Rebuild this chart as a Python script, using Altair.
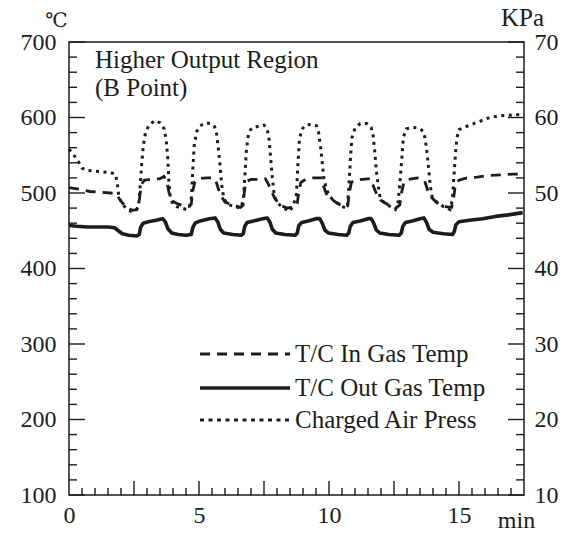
import altair as alt
import pandas as pd

# ---------------- data ----------------
# T/C In Gas Temp (degC) : (min, value)
tc_in = [(0.00, 507), (0.40, 505), (0.80, 502), (1.20, 501), (1.60, 500), (1.80, 499),
         (1.90, 494), (2.05, 487), (2.25, 480), (2.45, 477), (2.60, 478), (2.68, 484),
         (2.74, 500), (2.80, 512), (2.90, 517), (3.20, 518), (3.50, 519), (3.65, 522),
         (3.75, 517), (3.85, 500), (3.95, 490), (4.15, 486), (4.40, 483), (4.60, 482),
         (4.70, 485), (4.76, 502), (4.84, 515), (5.00, 519), (5.30, 520), (5.55, 520),
         (5.65, 516), (5.75, 505), (5.85, 496), (6.00, 488), (6.30, 484), (6.60, 481),
         (6.70, 484), (6.74, 500), (6.80, 515), (7.00, 518), (7.30, 518), (7.55, 519),
         (7.65, 513), (7.78, 503), (7.90, 494), (8.10, 484), (8.40, 480), (8.70, 482),
         (8.78, 486), (8.84, 503), (8.92, 514), (9.10, 518), (9.40, 520), (9.70, 520),
         (9.80, 508), (9.92, 497), (10.05, 493), (10.30, 487), (10.60, 481), (10.72, 483),
         (10.78, 500), (10.86, 514), (11.00, 517), (11.30, 518), (11.60, 519), (11.72, 508),
         (11.85, 497), (12.00, 490), (12.30, 484), (12.60, 481), (12.72, 484), (12.80, 502),
         (12.88, 514), (13.05, 518), (13.40, 520), (13.68, 516), (13.80, 503), (13.95, 494),
         (14.15, 487), (14.45, 482), (14.72, 481), (14.80, 495), (14.86, 511), (15.00, 517),
         (15.30, 520), (15.70, 521), (16.10, 523), (16.60, 524), (17.10, 525), (17.45, 525)]

# T/C Out Gas Temp (degC)
tc_out = [(0.00, 457), (0.30, 456), (0.70, 455), (1.10, 455), (1.50, 455), (1.75, 454),
          (1.90, 450), (2.05, 446), (2.30, 444), (2.60, 443), (2.70, 445), (2.76, 455),
          (2.85, 460), (3.05, 462), (3.35, 464), (3.60, 466), (3.70, 462), (3.80, 453),
          (3.95, 447), (4.20, 445), (4.50, 444), (4.70, 445), (4.76, 454), (4.85, 460),
          (5.05, 463), (5.40, 466), (5.62, 467), (5.72, 462), (5.82, 452), (5.95, 447),
          (6.30, 445), (6.62, 444), (6.70, 446), (6.76, 456), (6.85, 461), (7.10, 463),
          (7.45, 466), (7.62, 467), (7.72, 462), (7.82, 452), (7.95, 447), (8.30, 445),
          (8.70, 444), (8.78, 447), (8.84, 457), (8.95, 461), (9.20, 463), (9.50, 466),
          (9.64, 466), (9.74, 460), (9.84, 451), (9.98, 447), (10.35, 445), (10.68, 444),
          (10.76, 447), (10.82, 456), (10.92, 461), (11.20, 463), (11.50, 466), (11.62, 466),
          (11.72, 460), (11.82, 451), (11.95, 447), (12.30, 445), (12.70, 444), (12.78, 447),
          (12.84, 456), (12.94, 461), (13.20, 463), (13.50, 466), (13.65, 467), (13.75, 461),
          (13.85, 452), (14.00, 448), (14.40, 446), (14.75, 445), (14.82, 449), (14.88, 458),
          (15.00, 462), (15.40, 464), (15.90, 466), (16.40, 469), (16.90, 471), (17.45, 474)]

# Charged Air Press (KPa)
air_press = [(0.00, 55.8), (0.15, 55.2), (0.35, 54.2), (0.50, 53.3), (0.70, 53.0), (1.00, 52.9),
             (1.30, 52.8), (1.60, 52.7), (1.78, 52.5), (1.85, 51.5), (1.92, 49.5), (2.05, 48.5),
             (2.25, 47.8), (2.45, 47.5), (2.60, 47.8), (2.68, 48.5), (2.74, 51.0), (2.80, 54.0),
             (2.86, 56.3), (2.94, 58.0), (3.08, 59.0), (3.30, 59.6), (3.50, 59.3), (3.66, 58.5),
             (3.74, 57.0), (3.80, 54.5), (3.84, 51.5), (3.90, 49.3), (4.00, 48.5), (4.15, 48.2),
             (4.35, 48.0), (4.52, 47.8), (4.64, 48.2), (4.71, 49.5), (4.76, 53.0), (4.82, 56.5),
             (4.92, 58.2), (5.05, 58.9), (5.25, 59.3), (5.45, 59.2), (5.60, 58.8), (5.68, 57.8),
             (5.74, 56.0), (5.80, 54.0), (5.85, 52.0), (5.90, 50.3), (5.97, 49.2), (6.10, 48.5),
             (6.35, 48.2), (6.60, 48.0), (6.70, 49.0), (6.76, 52.0), (6.82, 55.5), (6.90, 57.8),
             (7.02, 58.6), (7.25, 58.8), (7.50, 59.0), (7.62, 58.5), (7.70, 57.0), (7.76, 54.5),
             (7.82, 52.0), (7.90, 49.5), (8.05, 48.6), (8.25, 48.0), (8.50, 47.6), (8.62, 48.4),
             (8.74, 49.5), (8.80, 53.5), (8.86, 57.0), (8.95, 58.4), (9.10, 59.0), (9.35, 59.1),
             (9.52, 58.9), (9.60, 58.0), (9.68, 56.0), (9.74, 54.0), (9.80, 52.0), (9.90, 50.5),
             (10.04, 49.5), (10.25, 48.8), (10.50, 48.2), (10.70, 48.0), (10.76, 50.5), (10.82, 54.3),
             (10.88, 57.3), (11.00, 58.6), (11.20, 59.2), (11.45, 59.2), (11.62, 58.7), (11.70, 57.6),
             (11.76, 55.5), (11.82, 53.0), (11.90, 50.8), (11.97, 49.3), (12.10, 48.8), (12.35, 48.2),
             (12.55, 47.8), (12.66, 48.8), (12.73, 51.5), (12.80, 54.5), (12.86, 57.4), (12.98, 58.5),
             (13.20, 58.7), (13.45, 58.6), (13.62, 58.2), (13.70, 57.2), (13.78, 55.0), (13.84, 53.0),
             (13.90, 50.8), (13.98, 49.3), (14.15, 48.8), (14.40, 48.2), (14.65, 47.8), (14.74, 49.0),
             (14.80, 52.0), (14.86, 55.0), (14.92, 57.3), (15.00, 58.4), (15.20, 58.7), (15.50, 59.1),
             (15.80, 59.5), (16.10, 59.9), (16.50, 60.2), (16.90, 60.3), (17.20, 60.4), (17.45, 60.3)]

temp_labels = [100, 200, 300, 400, 500, 600, 700]
temp_minor = [v for v in range(100, 701, 20) if v % 100 != 0]
press_labels = [10, 20, 30, 40, 50, 60, 70]
time_labels = [0, 5, 10, 15]
time_long = [2.5, 5, 7.5, 10, 12.5, 15]
time_short = [i / 2 for i in range(1, 35) if (i / 2) % 2.5 != 0]
legend_labels = ["T/C In Gas Temp", "T/C Out Gas Temp", "Charged Air Press"]
note_lines = ["Higher Output Region", "(B Point)"]

# ---------------- styling ----------------
W, H = 455, 453
FONT = "Liberation Serif"
INK = "#1c1c1c"
DASH = [10, 7]
DOT = [3, 4.5]

xscale = alt.Scale(domain=[0, 17.5], nice=False, zero=False)
tscale = alt.Scale(domain=[100, 700], nice=False, zero=False)
pscale = alt.Scale(domain=[10, 70], nice=False, zero=False)

xaxis = alt.Axis(values=time_labels, format="d", title="min", titleX=447, titleY=32,
                 titleAlign="center", titleBaseline="alphabetic", titleFont=FONT,
                 titleFontSize=24, titleFontWeight="normal", titleColor=INK,
                 labelFont=FONT, labelFontSize=24, labelColor=INK, labelPadding=8,
                 labelFlush=False, labelOverlap=False, ticks=False, tickSize=0,
                 domain=False, grid=False)

left_axis = alt.Axis(values=temp_labels, format="d", orient="left", title="℃",
                     titleX=-13, titleY=-12, titleAngle=0, titleAlign="center",
                     titleBaseline="bottom", titleFont="DejaVu Serif",
                     titleFontSize=20, titleFontWeight="normal", titleColor=INK,
                     labelFont=FONT, labelFontSize=24, labelColor=INK, labelPadding=13,
                     labelOverlap=False, ticks=False, tickSize=0, domain=False, grid=False)

right_axis = alt.Axis(values=press_labels, format="d", orient="right", title="KPa",
                      titleX=-2, titleY=-17, titleAngle=0, titleAlign="center",
                      titleBaseline="alphabetic", titleFont=FONT, titleFontSize=25,
                      titleFontWeight="normal", titleColor=INK,
                      labelFont=FONT, labelFontSize=24, labelColor=INK, labelPadding=10,
                      labelOverlap=False, ticks=False, tickSize=0, domain=False, grid=False)

df_in = pd.DataFrame(tc_in, columns=["t", "v"])
df_out = pd.DataFrame(tc_out, columns=["t", "v"])
df_p = pd.DataFrame(air_press, columns=["t", "v"])

X = alt.X("t:Q", scale=xscale, axis=xaxis)

line_in = alt.Chart(df_in).mark_line(color=INK, strokeWidth=2.8, strokeDash=DASH,
                                      strokeCap="butt").encode(
    x=X, y=alt.Y("v:Q", scale=tscale, axis=left_axis))
line_out = alt.Chart(df_out).mark_line(color=INK, strokeWidth=3.6,
                                       strokeJoin="round").encode(
    x=X, y=alt.Y("v:Q", scale=tscale, axis=None))
line_p = alt.Chart(df_p).mark_line(color=INK, strokeWidth=3.0, strokeDash=DOT,
                                   strokeCap="butt").encode(
    x=X, y=alt.Y("v:Q", scale=pscale, axis=right_axis))

# inward tick marks drawn through the scales
def ytick(vals, x0, x1):
    return alt.Chart(pd.DataFrame({"v": vals})).mark_rule(color=INK, strokeWidth=1.4).encode(
        y=alt.Y("v:Q", scale=tscale, axis=None), x=alt.value(x0), x2=alt.value(x1))

def xtick(vals, length):
    return alt.Chart(pd.DataFrame({"t": vals})).mark_rule(color=INK, strokeWidth=1.4).encode(
        x=X, y=alt.value(H), y2=alt.value(H - length))

ticks = [ytick(temp_labels, 0, 16), ytick(temp_minor, 0, 8),
         ytick(temp_labels, W, W - 16), ytick(temp_minor, W, W - 8),
         xtick(time_long, 14), xtick(time_short, 7)]

# legend drawn inside the plot
leg_y = [312, 346, 378]
leg_dash = [DASH, None, [4, 4.5]]
legend = []
for lab, yy, dsh in zip(legend_labels, leg_y, leg_dash):
    kw = dict(color=INK, strokeWidth=2.8 if dsh else 3.4, strokeCap="butt")
    if dsh:
        kw["strokeDash"] = dsh
    legend.append(alt.Chart(pd.DataFrame({"label": [lab]})).mark_rule(**kw).encode(
        x=alt.value(131), x2=alt.value(221), y=alt.value(yy)))
    legend.append(alt.Chart(pd.DataFrame({"label": [lab]})).mark_text(
        align="left", baseline="middle", font=FONT, fontSize=25, color=INK).encode(
        x=alt.value(226), y=alt.value(yy), text="label:N"))

notes = []
for line, yy in zip(note_lines, [26, 54]):
    notes.append(alt.Chart(pd.DataFrame({"label": [line]})).mark_text(
        align="left", baseline="alphabetic", font=FONT, fontSize=25, color=INK).encode(
        x=alt.value(26), y=alt.value(yy), text="label:N"))

chart = alt.layer(line_in, line_out, line_p, *ticks, *legend, *notes).resolve_scale(
    y="independent").properties(
    width=W, height=H,
    autosize=alt.AutoSizeParams(type="none"),
    padding={"left": 69, "top": 42, "right": 48, "bottom": 38},
    background="white",
).configure_view(stroke=INK, strokeWidth=1.5)

chart.save("out.html", embed_options={"renderer": "svg", "actions": False})
